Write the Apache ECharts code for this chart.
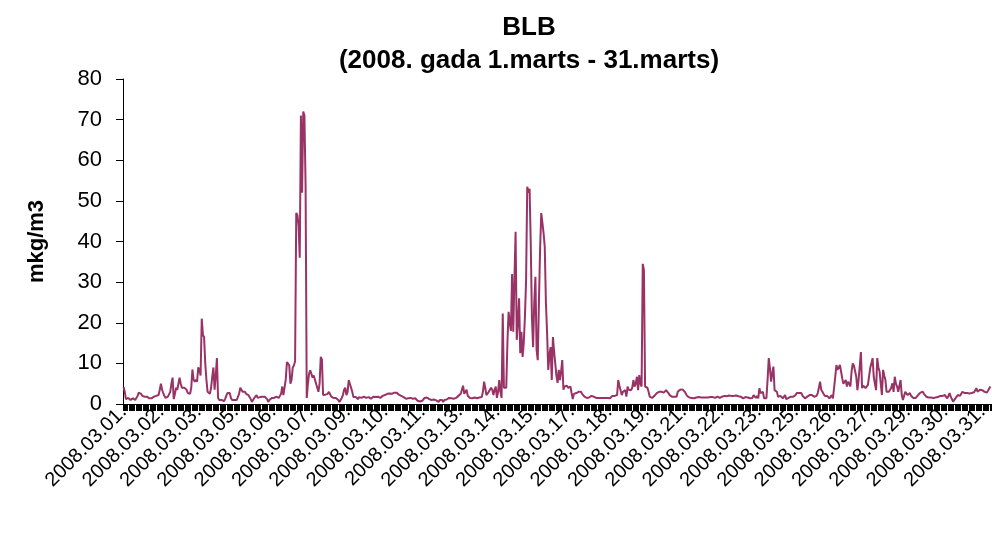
<!DOCTYPE html>
<html><head><meta charset="utf-8">
<script src="https://cdn.jsdelivr.net/npm/echarts@6/dist/echarts.min.js"></script>
<style>html,body{margin:0;padding:0;background:#fff}#c{width:992px;height:538px}</style>
</head><body><div id="c"></div>
<script>
const titleText = 'BLB\n(2008. gada 1.marts - 31.marts)';
const yAxisName = 'mkg/m3';
const dates = ['2008.03.01.','2008.03.02.','2008.03.03.','2008.03.04.','2008.03.05.','2008.03.06.','2008.03.07.','2008.03.08.','2008.03.09.','2008.03.10.','2008.03.11.','2008.03.12.','2008.03.13.','2008.03.14.','2008.03.15.','2008.03.16.','2008.03.17.','2008.03.18.','2008.03.19.','2008.03.20.','2008.03.21.','2008.03.22.','2008.03.23.','2008.03.24.','2008.03.25.','2008.03.26.','2008.03.27.','2008.03.28.','2008.03.29.','2008.03.30.','2008.03.31.'];
// hourly values (24 per day)
const d01 = [4.2,3,1.2,1,1.5,1.3,1,1.2,1.4,1.2,1,1.3,2,2.8,3,2.5,2,1.8,1.8,1.6,1.8,1.5,1.4,1.3];
const d02 = [1.4,1.5,1.8,1.7,2,2.2,2.2,3.5,5,3.5,2.7,2,1.5,1.5,1.8,2.2,3,5,6.5,1.2,2.5,4,3.5,5];
const d03 = [6.5,5,4,4.2,4,3.8,3.5,2.7,2.5,2.5,4,8.5,6,5.5,6,5.5,9,8.5,7,21,17,16.5,10,6];
const d04 = [3,2.7,2.5,4,6.7,9,3.5,7,11.3,1.5,1,0.8,1,1,0.7,1.2,2,2.7,2.5,2.7,1.5,1,1.2,1];
const d05 = [1,1,1.2,2.5,4,3.5,3,2.8,3,2.5,2.2,2.2,2,1.2,0.5,0.6,1.5,1.8,2.2,1.5,1.8,1.7,1.5,1.8];
const d06 = [1.6,1.8,1.5,1.2,0.5,1,1.3,1.5,1.2,1.5,1.8,1.8,1.6,1.5,2,2.5,4.3,2.2,2.5,6,10.3,10,9.5,5];
const d07 = [6,9,9.5,10.5,47,46.5,44,36,71,52,72,71,54,1.5,5,7.5,8.3,8,6.5,7,6.7,5,5,3];
const d08 = [5,11.6,11,2.2,2.3,2.3,2.2,2.5,3,2.7,1.8,1.5,1.5,1.3,1.5,1.4,1,0.5,0.7,1.5,2.2,3.5,4,2.2];
const d09 = [3,5.9,5.5,4,3,1.7,1.8,1.7,1.5,1.2,1.7,1.6,1.5,1.7,1.8,1.6,1.5,1.8,1.7,1.5,1.3,1.6,1.8,1.6];
const d10 = [1.7,2,1.8,1.5,1.5,1.8,2,2,2.2,2.5,2.5,2.5,2.6,2.5,2.5,2.6,2.8,2.8,2.8,2.6,2.3,2.2,2,1.7];
const d11 = [1.7,1.5,1.3,1.3,1.4,1.4,1.5,1.4,1.3,1.4,1.4,1.2,0.8,0.6,0.6,0.6,0.8,1.2,1.5,1.7,1.6,1.7,1.2,1];
const d12 = [1,1,1.1,1,0.9,1,0.5,1,0.9,1,0.5,1,1,1.1,1.2,1.5,1.6,1.4,1.3,1.3,1.3,1.5,1.8,2];
const d13 = [2.2,2.5,2.8,4.5,2.5,2.2,3.5,2,1.8,1.5,1.5,1.4,1.5,1.6,1.5,1.4,1.5,1.6,1.7,1.7,3,5.5,4,2.2];
const d14 = [2.2,3,3.5,4,3.5,2.2,3.5,4.3,1.5,3,5.9,3,1.5,22.3,4,4,4,15,22.7,20,18,32,17.8,30.5];
const d15 = [42.4,15.8,20,26,12.5,17.8,11.6,15,21.4,30.5,53.5,52,53,39.6,21.4,14,25,31.3,13.3,10.8,24.9,38,47,44.6];
const d16 = [42,38.7,25,17.5,8.4,12,14,5.9,16.5,13,10,7,5.2,8.4,5.9,8,10.8,3.5,4.3,4,4.5,4,4.3,4.3];
const d17 = [2.7,1.2,2.5,2.7,2.7,3,3,3,3,2.5,2.2,1.8,1.5,1.5,1.5,1.6,1.5,2,2.2,1.8,1.5,1.5,1.6,1.5];
const d18 = [1.5,1.5,1.4,1.5,1.5,1.5,1.4,1.5,1.5,1.4,1.5,2,2,2,2,2.2,5.9,4.5,3.4,2.2,3,3.4,3.4,1.8];
const d19 = [4.3,3.5,3.4,3.4,4,5.9,4.3,5,6.7,3.4,7.1,5,4.3,34.5,33,4.3,4,4,3,1.8,1.6,1.5,1.8,2];
const d20 = [2.2,2.7,2.8,3,3,3,2.7,2.8,2.7,3.4,3.4,2.7,2.2,2,1.8,1.8,1.8,1.7,1.8,3,3,3.5,3.9,3.6];
const d21 = [3.5,3,2.5,2,1.7,1.6,1.6,1.5,1.6,1.4,1.6,1.6,1.5,1.7,1.6,1.6,1.8,1.6,1.6,1.6,1.5,1.6,1.8,1.7];
const d22 = [1.6,1.7,1.6,1.5,1.6,1.8,1.6,1.5,1.6,1.8,2,2,2,1.9,2,2.1,2,2,1.9,2,2,2.1,2,1.9];
const d23 = [2,1.8,1.5,1.4,1.5,1.7,1.8,1.6,1.4,1.4,1.4,1.5,2.2,1.8,1.5,2,1.4,3.9,2.7,2.5,3,1.4,1.4,1.4];
const d24 = [6,11.3,8.9,5.5,7.5,9.2,3.4,3.2,3,1.8,1.8,2,2.2,1.4,1.8,2.2,1.2,1,1.5,1.8,1.8,1.8,1.8,1.8];
const d25 = [2.2,2.7,2.7,2.7,2.6,2.7,2,2,1.4,1.4,1.8,2.2,2.2,2,2.2,2.2,1.8,1.8,2,2.7,4,5.5,3.5,3];
const d26 = [3,2,2,2,2,1.4,1.6,2.2,1.4,4,6.7,9.6,8.4,9,9.6,8,6.3,5,4.7,5.9,4.3,5.5,5,4.3];
const d27 = [8,10,9.5,9.2,6.7,3.4,5.9,6,12.8,3.9,4.5,4.7,3.9,4.2,4.7,5,8.9,10,11.3,6.7,5,3.4,11.3,9];
const d28 = [8,5,2.2,8.4,7,5.9,3,3.4,3,2.7,4,5.1,3,6.7,5,4.3,3,4.5,5.9,2.2,1,2,3,3.4];
const d29 = [2.2,2.5,2.7,2,1.6,1.5,1.4,1.5,1.6,2.2,2.5,2.8,3,3,2.5,2.2,1.8,1.6,1.6,1.6,1.6,1.6,1.5,1.6];
const d30 = [1.6,1.6,1.7,1.8,2,2,2,2,2.2,1.8,1.4,2,2.7,1.8,1.4,0.6,1,1.4,1.8,2.2,2,2,2.5,3];
const d31 = [3,2.7,2.7,2.7,2.7,2.6,2.7,2.7,3,2.9,3,3.9,3,3.2,3.5,3.5,3.4,3,3,2.9,2.8,3.2,3.8,4.3];
const dayValues = [d01,d02,d03,d04,d05,d06,d07,d08,d09,d10,d11,d12,d13,d14,d15,d16,d17,d18,d19,d20,d21,d22,d23,d24,d25,d26,d27,d28,d29,d30,d31];
const yTicks = {min: 0, max: 80, step: 10};

const categories = [];
const values = [];
dayValues.forEach((arr, di) => arr.forEach(v => { categories.push(dates[di]); values.push(v); }));

const font = 'Arial, "Liberation Sans", sans-serif';
const chart = echarts.init(document.getElementById('c'), null, {renderer: 'canvas'});
chart.setOption({
  animation: false,
  backgroundColor: '#ffffff',
  title: {
    text: titleText, left: 524, top: 6, textAlign: 'center',
    textStyle: {fontFamily: font, fontWeight: 'bold', fontSize: 26, color: '#000', lineHeight: 33}
  },
  grid: {left: 123, right: 1, top: 79, bottom: 134, containLabel: false},
  xAxis: {
    type: 'category', data: categories, boundaryGap: true,
    axisLine: {lineStyle: {color: '#000', width: 1}},
    axisTick: {show: true, interval: 0, length: 7, lineStyle: {color: '#000', width: 1}},
    axisLabel: {interval: 31, rotate: 45, fontFamily: font, fontSize: 20, color: '#000', margin: 5}
  },
  yAxis: {
    type: 'value', min: yTicks.min, max: yTicks.max, interval: yTicks.step,
    name: yAxisName, nameLocation: 'middle', nameGap: 75, nameRotate: 90,
    nameTextStyle: {fontFamily: font, fontWeight: 'bold', fontSize: 22, color: '#000'},
    axisLine: {show: true, lineStyle: {color: '#000', width: 1}},
    axisTick: {show: true, length: 7, lineStyle: {color: '#000'}},
    splitLine: {show: false},
    axisLabel: {fontFamily: font, fontSize: 22, color: '#000', margin: 21}
  },
  series: [{
    type: 'line', data: values, showSymbol: false, symbol: 'none',
    lineStyle: {color: '#993366', width: 2}, itemStyle: {color: '#993366'}
  }]
});
</script></body></html>
